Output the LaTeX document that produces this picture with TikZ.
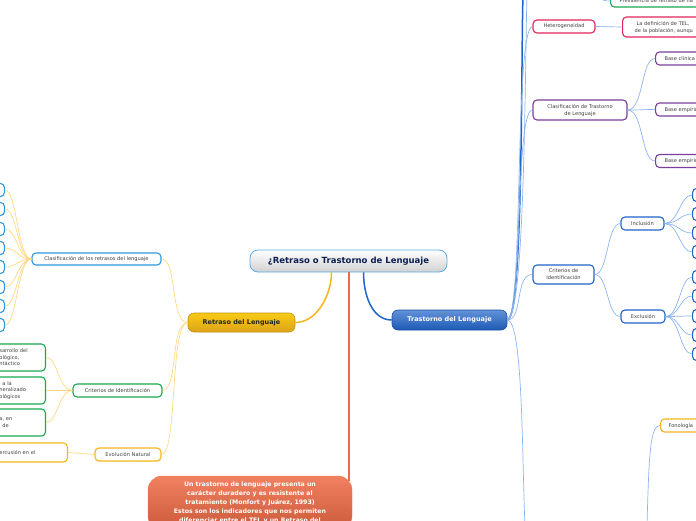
\documentclass[tikz,border=0pt]{standalone}
\usepackage{fontspec}
\setmainfont{DejaVu Sans}
\usetikzlibrary{arrows.meta,positioning}
\definecolor{oro}{HTML}{F5B51C}
\definecolor{oroclaro}{HTML}{FFD884}
\definecolor{azul}{HTML}{1F64C8}
\definecolor{azulclaro}{HTML}{8DB5EE}
\definecolor{celeste}{HTML}{2E98DE}
\definecolor{verde}{HTML}{1BA84F}
\definecolor{morado}{HTML}{7A3E9D}
\definecolor{rosa}{HTML}{E0245E}
\definecolor{rojo}{HTML}{EE6A44}
\definecolor{tinta}{HTML}{0C1F52}

\begin{document}
\begin{tikzpicture}[x=1pt,y=-1pt,
  rootbox/.style={draw=celeste!80,line width=0.8pt,rounded corners=8pt,top color=white,bottom color=black!18,
    text=tinta,font=\fontsize{8.5}{9}\selectfont\bfseries,minimum width=197pt,minimum height=22pt},
  mainbox/.style={rounded corners=6pt,line width=0.6pt,font=\fontsize{6.5}{8}\selectfont\bfseries,minimum height=19pt},
  subbox/.style={draw=#1,line width=1.1pt,rounded corners=4pt,fill=white,text=black!75,
    font=\fontsize{5.1}{7}\selectfont,inner sep=1pt,minimum height=13pt,align=center},
  leafbox/.style={subbox=#1,minimum width=22pt},
  twig/.style={draw=#1,line width=0.7pt},
  trunk/.style={draw=#1,line width=1.5pt}]
\useasboundingbox (0,0) rectangle (696,520);
\clip (0,0) rectangle (696,520);

% centre and main topics
\node[rootbox] (c0) at (348.5,261) {¿Retraso o Trastorno de Lenguaje};
\node[mainbox,draw=oro!80!black,top color=oro!70!yellow,bottom color=oro!90!black,text=black!85,minimum width=107pt] (r1) at (241.5,322.5) {Retraso del Lenguaje};
\node[mainbox,draw=azul!80!black,top color=azul!70!white,bottom color=azul!90!black,text=white,minimum width=115pt,minimum height=20pt] (t1) at (449.5,320) {Trastorno del Lenguaje};
\node[draw=rojo!90!white,rounded corners=14pt,top color=rojo!85!white,bottom color=rojo!85!black,text=white,
  font=\fontsize{6.2}{9}\selectfont\bfseries,align=center,minimum width=204pt,minimum height=54pt,inner sep=2pt] (q0) at (250,503)
  {Un trastorno de lenguaje presenta un\\carácter duradero y es resistente al\\tratamiento (Monfort y Juárez, 1993)\\Estos son los indicadores que nos permiten\\diferenciar entre el TEL y un Retraso del};

% left branch
\node[subbox=celeste,minimum width=129pt,minimum height=12pt] (l1) at (96.5,259) {Clasificación de los retrasos del lenguaje};
\node[subbox=verde,minimum width=89pt] (l2) at (117.5,390.5) {Criterios de Identificación};
\node[subbox=oro,minimum width=66pt] (l3) at (128,454.5) {Evolución Natural};
\foreach \y [count=\i] in {190,209,229,248,267,287,306,325}
  \node[leafbox=celeste,anchor=east] (b\i) at (5,\y) {};
\node[subbox=verde,anchor=east,align=left,text width=36pt,inner xsep=10pt,minimum height=27pt,font=\fontsize{5.1}{6.5}\selectfont] (g1) at (46,357.5) {sarrollo del\\ológico,\\ntáctico};
\node[subbox=verde,anchor=east,align=left,text width=36pt,inner xsep=10pt,minimum height=27pt,font=\fontsize{5.1}{6.5}\selectfont] (g2) at (46,390.5) {\hspace*{3pt}a la\\neralizado\\ológicos};
\node[subbox=verde,anchor=east,align=left,text width=36pt,inner xsep=10pt,minimum height=27pt,font=\fontsize{5.1}{6.5}\selectfont] (g3) at (46,422.5) {a, en\\\hspace*{3pt}de};
\node[subbox=oro,anchor=east,align=left,text width=58pt,inner xsep=10pt,minimum height=19pt] (o1) at (68,452.5) {ercusión en el};

% right branch
\node[subbox=verde,anchor=west,align=left,text width=90pt,inner xsep=9pt,minimum height=12pt] (p1) at (610,1) {Prevalencia de retraso de ha};
\node[subbox=rosa,minimum width=62pt] (h1) at (564,26.5) {Heterogeneidad};
\node[subbox=rosa,anchor=west,align=left,text width=80pt,inner xsep=12pt,minimum height=20pt] (h2) at (622,27) {\hspace*{2pt}La definición de TEL,\\de la población, aunqu};
\node[subbox=morado,minimum width=94pt,minimum height=20pt] (k1) at (580,110) {Clasificación de Trastorno\\de Lenguaje};
\foreach \y/\txt [count=\i] in {58.5/Base clínica,109.5/Base empírica,161/Base empírica}
  \node[subbox=morado,anchor=west,align=left,text width=50pt,inner xsep=9pt] (k1\i) at (655,\y) {\txt};
\node[subbox=azul,minimum width=61pt,minimum height=19pt] (d1) at (563.5,274.5) {Criterios de\\Identificación};
\node[subbox=azul,minimum width=43pt] (d2) at (642.5,223.5) {Inclusión};
\node[subbox=azul,minimum width=44pt] (d3) at (643,316.5) {Exclusión};
\foreach \y [count=\i] in {195,214,233,252}
  \node[leafbox=azul,anchor=west] (n\i) at (692,\y) {};
\foreach \y [count=\i] in {277,296,316,335,354}
  \node[leafbox=azul,anchor=west] (x\i) at (692,\y) {};
\node[subbox=oro,anchor=west,align=left,text width=40pt,inner xsep=8pt] (f1) at (660,425.5) {Fonología};
\coordinate (up1) at (523,-5);
\coordinate (up2) at (527,-5);
\coordinate (down1) at (525,525);
\coordinate (up3) at (592,-14);
\coordinate (down2) at (647,525);

% connectors
\draw[trunk=oro] ([xshift=-17pt]c0.south) .. controls +(0,22) and +(22,0) .. (r1.east);
\draw[trunk=azul] ([xshift=15pt]c0.south) .. controls +(0,22) and +(-20,0) .. (t1.west);
\draw[draw=rojo,line width=2pt] (c0.south) -- ([yshift=-5pt]c0.south |- q0.north);
\foreach \n in {l1,l2,l3}
  \draw[twig=oroclaro] (r1.west) .. controls +(-18,0) and +(16,0) .. (\n.east);
\foreach \i in {1,...,8}
  \draw[twig=oroclaro] (l1.west) .. controls +(-14,0) and +(12,0) .. (b\i.east);
\foreach \i in {1,2,3}
  \draw[twig=oroclaro] (l2.west) .. controls +(-14,0) and +(12,0) .. (g\i.east);
\draw[twig=oroclaro] (l3.west) -- (o1.east);
\draw[trunk=azul] (t1.east) .. controls +(16,0) and +(-2,60) .. (up1);
\draw[twig=azulclaro] (t1.east) .. controls +(18,0) and +(-2,60) .. (up2);
\draw[twig=azulclaro] (t1.east) .. controls +(16,0) and +(-18,0) .. (h1.west);
\draw[twig=azulclaro] (t1.east) .. controls +(16,0) and +(-18,0) .. (k1.west);
\draw[twig=azulclaro] (t1.east) .. controls +(16,0) and +(-18,0) .. (d1.west);
\draw[twig=azulclaro] (t1.east) .. controls +(16,0) and +(-3,-60) .. (down1);
\draw[twig=azulclaro] (up3) .. controls +(6,12) and +(-10,0) .. (p1.west);
\draw[twig=azulclaro] (h1.east) -- (h2.west);
\foreach \i in {1,2,3}
  \draw[twig=azulclaro] (k1.east) .. controls +(16,0) and +(-14,0) .. (k1\i.west);
\draw[twig=azulclaro] (d1.east) .. controls +(14,0) and +(-14,0) .. (d2.west);
\draw[twig=azulclaro] (d1.east) .. controls +(14,0) and +(-14,0) .. (d3.west);
\foreach \i in {1,...,4}
  \draw[twig=azulclaro] (d2.east) .. controls +(14,0) and +(-12,0) .. (n\i.west);
\foreach \i in {1,...,5}
  \draw[twig=azulclaro] (d3.east) .. controls +(14,0) and +(-12,0) .. (x\i.west);
\draw[twig=azulclaro] (down2) .. controls +(2,-70) and +(-10,0) .. (f1.west);
\end{tikzpicture}
\end{document}
